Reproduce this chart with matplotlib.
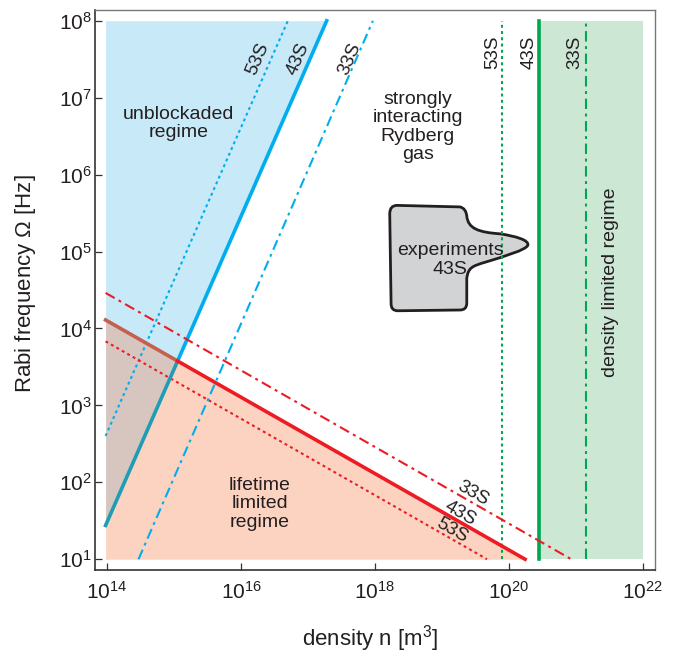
import numpy as np
import matplotlib
matplotlib.use('Agg')
import matplotlib.pyplot as plt
from matplotlib.path import Path
from matplotlib.patches import PathPatch

plt.rcParams['font.family'] = ['Liberation Sans', 'DejaVu Sans']
plt.rcParams['mathtext.fontset'] = 'custom'
plt.rcParams['mathtext.rm'] = 'Liberation Sans'
plt.rcParams['mathtext.it'] = 'Liberation Sans:italic'

'''Data read off the figure'''
states = ['53S', '43S', '33S']
# blockade limit (blue), start and end points [density, rabi]
blockade_n = [[9.5e13, 5.0e16], [9.5e13, 1.9e17], [2.95e14, 9.3e17]]
blockade_rabi = [[4.0e2, 1e8], [2.75e1, 1e8], [1e1, 1e8]]
# lifetime limit (red)
lifetime_n = [[9.5e13, 4.7e19], [9.5e13, 1.74e20], [9.5e13, 8.5e20]]
lifetime_rabi = [[6.8e3, 1e1], [1.29e4, 1e1], [2.9e4, 1e1]]
# density limit (green)
density_n = [7.9e19, 2.8e20, 1.4e21]
density_rabi = [1e1, 1e8]
n_max = 1e22
# experiments blob outline, in decades (log10 n, log10 rabi)
exp_log_n = [18.33, 19.27, 19.36, 19.37, 19.39, 19.54, 19.87, 20.09, 20.31, 20.28,
             20.25, 19.94, 19.64, 19.45, 19.39, 19.37, 19.37, 19.37, 19.27, 18.34,
             18.24, 18.24, 18.22, 18.22, 18.33, 18.33]
exp_log_rabi = [5.60, 5.58, 5.56, 5.46, 5.30, 5.25, 5.23, 5.20, 5.15, 5.08,
                5.02, 4.94, 4.86, 4.81, 4.79, 4.65, 4.33, 4.24, 4.24, 4.23,
                4.23, 4.32, 5.49, 5.60, 5.60, 5.60]
exp_codes = [Path.MOVETO, Path.LINETO, Path.CURVE3, Path.CURVE3,
             Path.CURVE4, Path.CURVE4, Path.CURVE4, Path.CURVE4, Path.CURVE4, Path.CURVE4,
             Path.CURVE4, Path.CURVE4, Path.CURVE4, Path.CURVE4, Path.CURVE4, Path.CURVE4,
             Path.LINETO, Path.CURVE3, Path.CURVE3, Path.LINETO, Path.CURVE3, Path.CURVE3,
             Path.LINETO, Path.CURVE3, Path.CURVE3, Path.CLOSEPOLY]

# colours
blue = '#00aeef'
teal = '#1e9db4'
red = '#ed1c24'
brown = '#c4604c'
green = '#00a651'
txt = '#231f20'

def powerlaw(n, pn, pr):
    lx, ly = np.log10(pn), np.log10(pr)
    k = (ly[1] - ly[0]) / (lx[1] - lx[0])
    return 10 ** (ly[0] + k * (np.log10(n) - lx[0]))

fig = plt.figure(figsize=(6.79, 6.54), dpi=100)
ax = fig.add_axes([95/679, 84/654, 560/679, 560/654])
ax.set_xscale('log')
ax.set_yscale('log')
ax.set_xlim(10**13.82, 10**22.18)
ax.set_ylim(10**0.86, 10**8.14)

# regions
nb = np.logspace(np.log10(blockade_n[1][0]), np.log10(blockade_n[1][1]), 800)
bb = powerlaw(nb, blockade_n[1], blockade_rabi[1])
rb = powerlaw(nb, lifetime_n[1], lifetime_rabi[1])
nr = np.logspace(np.log10(lifetime_n[1][0]), np.log10(lifetime_n[1][1]), 800)
br = powerlaw(nr, blockade_n[1], blockade_rabi[1])
rr = powerlaw(nr, lifetime_n[1], lifetime_rabi[1])
ax.fill_between(nr, 1e1, np.minimum(rr, br), color='#fcd3c0', lw=0, zorder=1)
ax.fill_between(nb, np.maximum(bb, rb), 1e8, color='#c7e9f8', lw=0, zorder=1)
ax.fill_between(nb, bb, rb, where=bb < rb, interpolate=True, color='#d6c6bf', lw=0, zorder=1)
ax.fill_between([density_n[1], n_max], density_rabi[0], density_rabi[1], color='#cde7d5', lw=0, zorder=1)

# intersection of the two 43S lines
kb = np.log10(blockade_rabi[1][1] / blockade_rabi[1][0]) / np.log10(blockade_n[1][1] / blockade_n[1][0])
kr = np.log10(lifetime_rabi[1][1] / lifetime_rabi[1][0]) / np.log10(lifetime_n[1][1] / lifetime_n[1][0])
lx = (np.log10(lifetime_rabi[1][0]) - np.log10(blockade_rabi[1][0]) + kb*np.log10(blockade_n[1][0])
      - kr*np.log10(lifetime_n[1][0])) / (kb - kr)
n_x = 10**lx

# experiments
verts = np.column_stack([10**np.array(exp_log_n), 10**np.array(exp_log_rabi)])
ax.add_patch(PathPatch(Path(verts, exp_codes), facecolor='#d1d3d4', edgecolor=txt, lw=2.0, zorder=2))

styles = [dict(ls=(0, (1.4, 1.6)), lw=1.5),
          dict(ls='-', lw=2.6),
          dict(ls=(0, (5, 2.2, 1.4, 2.2)), lw=1.5)]
for i, s in enumerate(states):
    if s == '43S':
        ax.plot([blockade_n[i][0], n_x], [blockade_rabi[i][0], powerlaw(n_x, blockade_n[i], blockade_rabi[i])],
                color=teal, zorder=3, **styles[i])
        ax.plot([n_x, blockade_n[i][1]], [powerlaw(n_x, blockade_n[i], blockade_rabi[i]), blockade_rabi[i][1]],
                color=blue, zorder=3, **styles[i])
        ax.plot([lifetime_n[i][0], n_x], [lifetime_rabi[i][0], powerlaw(n_x, lifetime_n[i], lifetime_rabi[i])],
                color=brown, zorder=3, **styles[i])
        ax.plot([n_x, lifetime_n[i][1]], [powerlaw(n_x, lifetime_n[i], lifetime_rabi[i]), lifetime_rabi[i][1]],
                color=red, zorder=3, **styles[i])
    else:
        ax.plot(blockade_n[i], blockade_rabi[i], color=blue, zorder=3, **styles[i])
        ax.plot(lifetime_n[i], lifetime_rabi[i], color=red, zorder=3, **styles[i])
    ax.plot([density_n[i]]*2, density_rabi, color=green, zorder=3, **styles[i])

# line labels
lab = dict(fontsize=13.5, color=txt, ha='center', va='center', zorder=4)
for s, x, y in zip(states, [16.25, 16.85, 17.63], [7.51, 7.51, 7.51]):
    ax.text(10**x, 10**y, s, rotation=66.5, **lab)
for s, x, y in zip(states, [19.75, 20.30, 20.99], [7.59, 7.59, 7.59]):
    ax.text(10**x, 10**y, s, rotation=90, **lab)
for s, x, y in zip(states, [19.15, 19.27, 19.46], [1.38, 1.60, 1.86]):
    ax.text(10**x, 10**y, s, rotation=-30, **lab)

reg = dict(fontsize=14, color=txt, ha='center', va='center', linespacing=1.1, zorder=4)
ax.text(10**15.07, 10**6.66, 'unblockaded\nregime', **reg)
ax.text(10**18.64, 10**6.62, 'strongly\ninteracting\nRydberg\ngas', **reg)
ax.text(10**16.28, 10**1.72, 'lifetime\nlimited\nregime', **reg)
ax.text(10**19.12, 10**4.89, 'experiments\n43S', **reg)
ax.text(10**21.51, 10**4.60, 'density limited regime', rotation=90, **reg)

# axes
ax.set_xticks([1e14, 1e16, 1e18, 1e20, 1e22])
ax.set_yticks([10.0**k for k in range(1, 9)])
ax.minorticks_off()
ax.tick_params(direction='in', length=5, width=0.9, color='#333333', labelsize=15, labelcolor=txt)
ax.tick_params(axis='x', pad=8)
ax.tick_params(axis='y', pad=2)
for side in ['left', 'bottom']:
    ax.spines[side].set_color('#333333')
    ax.spines[side].set_linewidth(1.2)
for side in ['top', 'right']:
    ax.spines[side].set_color('#777777')
    ax.spines[side].set_linewidth(1.0)

ax.set_xlabel('density n [m$^3$]', fontsize=16, color=txt)
ax.set_ylabel(r'Rabi frequency $\Omega$ [Hz]', fontsize=16, color=txt)
ax.xaxis.set_label_coords(0.491, -0.094)
ax.yaxis.set_label_coords(-0.102, 0.511)

fig.savefig('out.png', dpi=100)
